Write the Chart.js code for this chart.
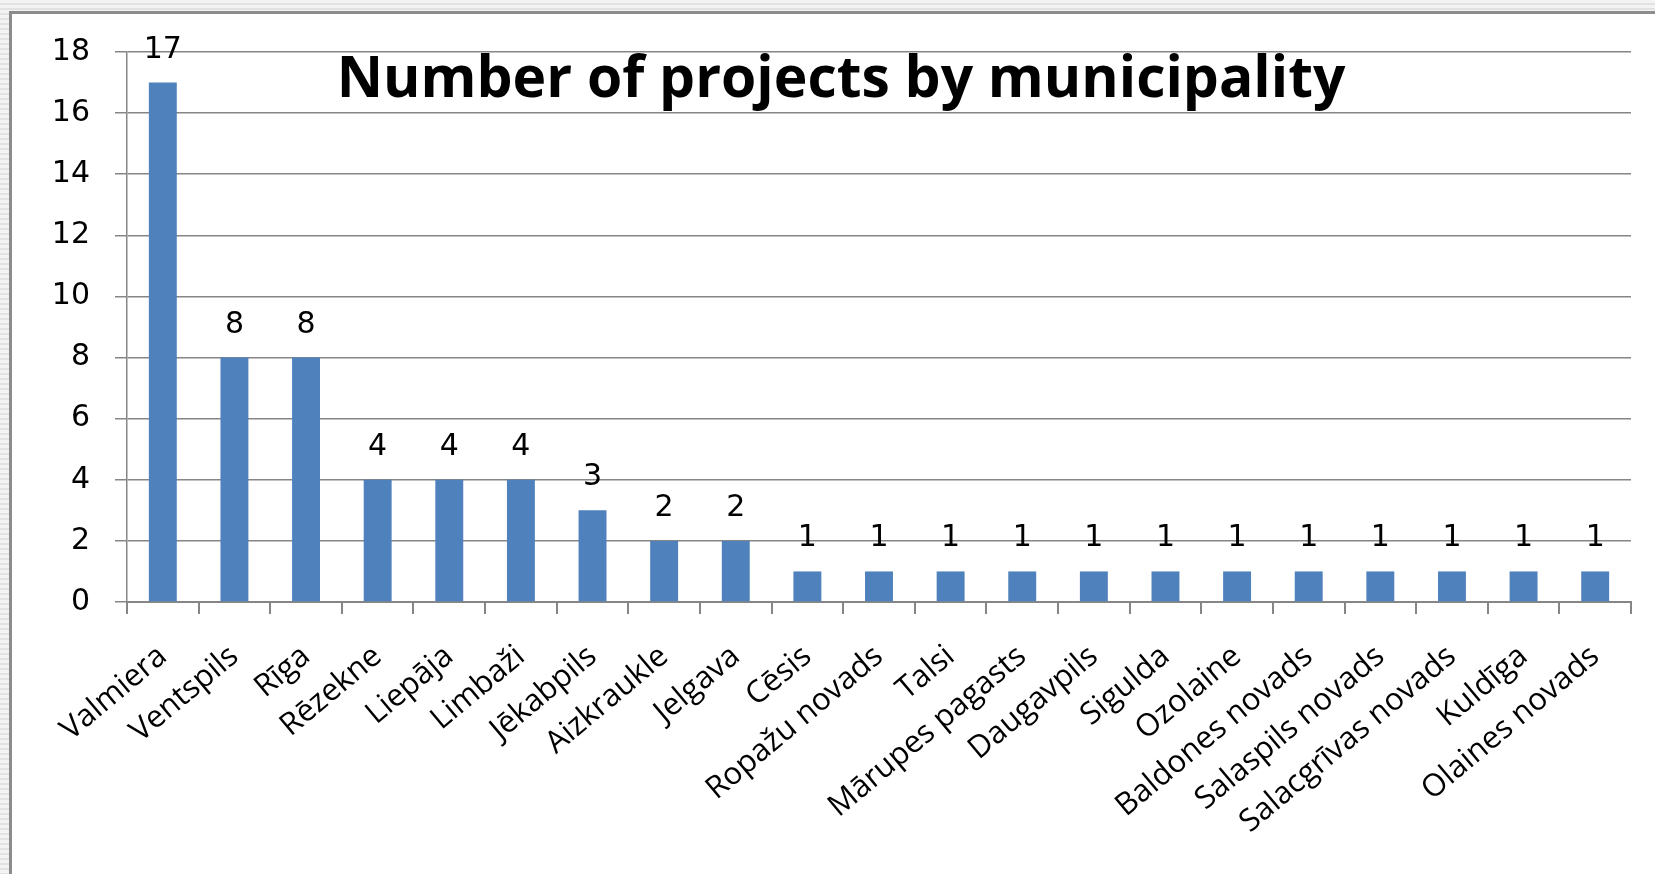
<!DOCTYPE html>
<html>
<head>
<meta charset="utf-8">
<script src="https://cdn.jsdelivr.net/npm/chart.js@4.4.1/dist/chart.umd.min.js"></script>
<style>
  html, body { margin: 0; padding: 0; width: 1655px; height: 874px; overflow: hidden; }
  body { background: repeating-linear-gradient(to bottom, #f3f3f3 0px, #f3f3f3 3px, #e2e2e2 3px, #e2e2e2 5px); }
  #frame {
    position: absolute; left: 9px; top: 11px; width: 1643px; height: 860px;
    border-left: 3px solid #8c8c8c; border-top: 3px solid #8c8c8c; background: #fff;
  }
  #chart { position: absolute; left: 0; top: 0; }
</style>
</head>
<body>
<div id="frame"><canvas id="chart" width="1643" height="860"></canvas></div>
<script>
var titleText = 'Number of projects by municipality';
var municipalities = ['Valmiera', 'Ventspils', 'Rīga', 'Rēzekne', 'Liepāja', 'Limbaži', 'Jēkabpils',
    'Aizkraukle', 'Jelgava', 'Cēsis', 'Ropažu novads', 'Talsi', 'Mārupes pagasts', 'Daugavpils',
    'Sigulda', 'Ozolaine', 'Baldones novads', 'Salaspils novads', 'Salacgrīvas novads', 'Kuldīga',
    'Olaines novads'];
var projectCounts = [17, 8, 8, 4, 4, 4, 3, 2, 2, 1, 1, 1, 1, 1, 1, 1, 1, 1, 1, 1, 1];
var yTicks = [0, 2, 4, 6, 8, 10, 12, 14, 16, 18];

var gridGrey = '#868686';
var labelFont = '"Open Sans"';
var digitFont = '"DejaVu Sans"';

// value labels above bars + title inside the plot
var valueLabels = {
    id: 'valueLabels',
    afterDatasetsDraw: function (chart) {
        var ctx = chart.ctx;
        var meta = chart.getDatasetMeta(0);
        ctx.save();
        ctx.font = '30px ' + digitFont;
        ctx.fillStyle = '#000';
        ctx.textAlign = 'center';
        ctx.textBaseline = 'alphabetic';
        meta.data.forEach(function (bar, i) {
            ctx.fillText(projectCounts[i], bar.x, bar.y - 25);
        });
        ctx.font = 'bold 57px ' + labelFont;
        ctx.fillText(titleText, 829, 83);
        ctx.restore();
    }
};

new Chart(document.getElementById('chart').getContext('2d'), {
    type: 'bar',
    data: {
        labels: municipalities,
        datasets: [{ label: 'Projects', data: projectCounts, backgroundColor: '#4F81BD', barPercentage: 0.39, categoryPercentage: 1 }]
    },
    options: {
        responsive: false,
        animation: false,
        layout: { padding: { top: 38, right: 24, left: 0, bottom: 0 } },
        plugins: { legend: { display: false }, tooltip: { enabled: false }, title: { display: false } },
        scales: {
            x: {
                afterFit: function (s) { s.height = 272; },
                grid: { display: true, drawOnChartArea: false, drawTicks: true, tickLength: 12, color: gridGrey, lineWidth: 2, offset: true },
                border: { display: true, color: gridGrey, width: 2 },
                ticks: { color: '#000', font: { family: labelFont, size: 31 }, minRotation: 40, maxRotation: 40, autoSkip: false, padding: 24 }
            },
            y: {
                min: 0, max: 18,
                afterFit: function (s) { s.width = 115; s.paddingTop = 0; },
                afterBuildTicks: function (s) { s.ticks = yTicks.map(function (v) { return { value: v }; }); },
                grid: { color: gridGrey, lineWidth: 1.5, tickLength: 12 },
                border: { display: true, color: gridGrey, width: 1.5 },
                ticks: { color: '#000', font: { family: digitFont, size: 30 }, padding: 25 }
            }
        }
    },
    plugins: [valueLabels]
});
</script>
</body>
</html>
